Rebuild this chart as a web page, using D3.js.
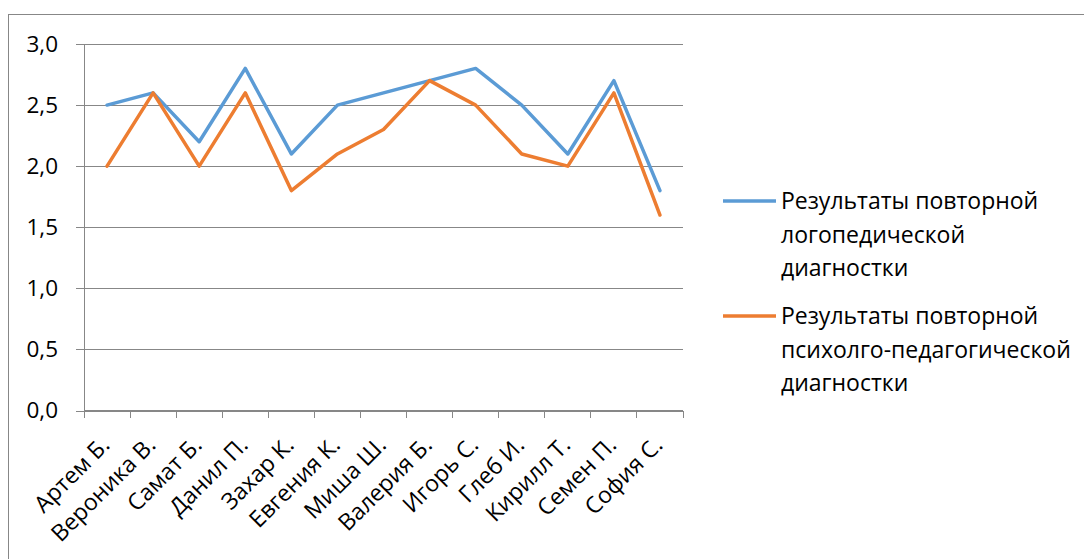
<!DOCTYPE html>
<html>
<head>
<meta charset="utf-8">
<script src="https://cdn.jsdelivr.net/npm/d3@7"></script>
<style>
  html, body { margin: 0; padding: 0; background: #fff; }
  svg text { font-family: "Open Sans", "Noto Sans", sans-serif; fill: #000; }
</style>
</head>
<body>
<svg id="chart" width="1084" height="559"></svg>
<script>
// Children and their repeat-diagnostic scores
const categories = ["Артем Б.", "Вероника В.", "Самат Б.", "Данил П.", "Захар К.", "Евгения К.",
  "Миша Ш.", "Валерия Б.", "Игорь С.", "Глеб И.", "Кирилл Т.", "Семен П.", "София С."];
const speechScores = [2.5, 2.6, 2.2, 2.8, 2.1, 2.5, 2.6, 2.7, 2.8, 2.5, 2.1, 2.7, 1.8];
const psychScores  = [2.0, 2.6, 2.0, 2.6, 1.8, 2.1, 2.3, 2.7, 2.5, 2.1, 2.0, 2.6, 1.6];
const yTicks = [0, 0.5, 1.0, 1.5, 2.0, 2.5, 3.0];
const seriesNames = [
  ["Результаты повторной", "логопедической", "диагностки"],
  ["Результаты повторной", "психолго-педагогической", "диагностки"]
];

const series = [
  { name: seriesNames[0], values: speechScores, color: "#5B9BD5" },
  { name: seriesNames[1], values: psychScores,  color: "#ED7D31" }
];

const svg = d3.select("#chart");
const gridColor = "#878787";
const fmt = v => d3.format(".1f")(v).replace(".", ",");

// Outer chart frame
svg.append("rect")
  .attr("x", 8.5).attr("y", 14.5)
  .attr("width", 1100).attr("height", 600)
  .attr("fill", "none").attr("stroke", gridColor).attr("stroke-width", 1);

const plot = { left: 84, right: 683, top: 44, bottom: 410.5 };

const x = d3.scaleBand().domain(categories).range([plot.left, plot.right]);
const y = d3.scaleLinear().domain([0, 3]).range([plot.bottom, plot.top]);

// Horizontal gridlines with outward tick stubs and labels
const yAxis = d3.axisLeft(y).tickValues(yTicks).tickFormat(fmt)
  .tickSize(-(plot.right - plot.left)).tickPadding(26);
const gy = svg.append("g").attr("transform", `translate(${plot.left},0)`).call(yAxis);
gy.select(".domain").remove();
gy.selectAll(".tick line").attr("stroke", gridColor).attr("x1", -8)
  .attr("shape-rendering", "crispEdges");
gy.selectAll(".tick text").attr("font-size", 22.5).attr("font-family", "Open Sans")
  .attr("fill", "#000");

// Vertical axis line
svg.append("line")
  .attr("x1", plot.left).attr("x2", plot.left)
  .attr("y1", plot.top).attr("y2", plot.bottom)
  .attr("stroke", gridColor).attr("shape-rendering", "crispEdges");

// Category axis with ticks at category boundaries
svg.append("line")
  .attr("x1", plot.left).attr("x2", plot.right)
  .attr("y1", plot.bottom).attr("y2", plot.bottom)
  .attr("stroke", gridColor).attr("shape-rendering", "crispEdges");
const boundaries = categories.map(c => x(c)).concat([plot.right]);
svg.append("g").selectAll("line").data(boundaries).join("line")
  .attr("x1", d => d).attr("x2", d => d)
  .attr("y1", plot.bottom).attr("y2", plot.bottom + 7)
  .attr("stroke", gridColor).attr("shape-rendering", "crispEdges");

svg.append("g").selectAll("text").data(categories).join("text")
  .attr("transform", d => `translate(${x(d) + x.bandwidth() / 2 + 4},${plot.bottom + 36}) rotate(-45)`)
  .attr("text-anchor", "end")
  .attr("font-size", 23)
  .text(d => d);

// Series lines
const line = d3.line()
  .x((d, i) => x(categories[i]) + x.bandwidth() / 2)
  .y(d => y(d));

svg.append("g").selectAll("path").data(series).join("path")
  .attr("d", s => line(s.values))
  .attr("fill", "none")
  .attr("stroke", s => s.color)
  .attr("stroke-width", 3.5)
  .attr("stroke-linejoin", "round")
  .attr("stroke-linecap", "round");

// Legend
const legend = svg.append("g");
const legendTop = [201, 316];
const lineGap = 33.5;
series.forEach((s, k) => {
  const g = legend.append("g").attr("transform", `translate(0,${legendTop[k]})`);
  g.append("line")
    .attr("x1", 723).attr("x2", 776).attr("y1", 0).attr("y2", 0)
    .attr("stroke", s.color).attr("stroke-width", 3.5);
  g.append("text")
    .attr("x", 781).attr("y", 0)
    .attr("font-size", 23)
    .selectAll("tspan").data(s.name).join("tspan")
    .attr("x", 781)
    .attr("dy", (d, i) => i === 0 ? "0.35em" : lineGap)
    .text(d => d);
});
</script>
</body>
</html>
